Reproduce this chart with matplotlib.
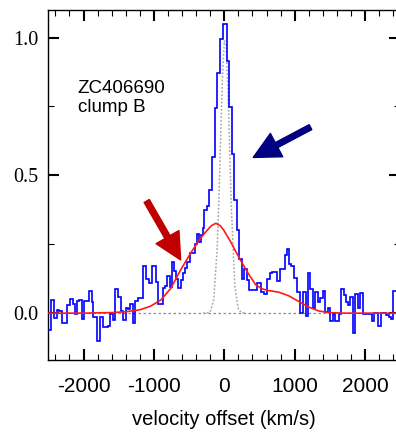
import numpy as np
import matplotlib
matplotlib.use("Agg")
import matplotlib.pyplot as plt
from matplotlib.patches import FancyArrowPatch
from matplotlib.ticker import MultipleLocator

plt.rcParams['axes.unicode_minus'] = False

# ---- observed spectrum (step histogram): bin edges in km/s and normalised flux
vel_edges = [-2500, -2463, -2416, -2378, -2345, -2311, -2236, -2194, -2155, -2127, -2099,
             -2070, -2028, -1991, -1920, -1886, -1858, -1811, -1768, -1721, -1645, -1622,
             -1588, -1551, -1503, -1461, -1432, -1390, -1361, -1339, -1300, -1262, -1225,
             -1154, -1106, -1069, -1021, -974, -942, -871, -842, -818, -771, -737, -709,
             -681, -652, -620, -587, -559, -525, -492, -459, -421, -393, -360, -336, -308,
             -286, -251, -218, -180, -138, -105, -60, -17, 37, 65, 104, 136, 174, 207, 245,
             278, 316, 349, 468, 515, 562, 600, 647, 681, 752, 798, 859, 893, 916, 947, 997,
             1039, 1082, 1124, 1160, 1188, 1224, 1259, 1295, 1330, 1366, 1404, 1436, 1469,
             1507, 1540, 1578, 1625, 1659, 1696, 1730, 1753, 1791, 1829, 1862, 1900, 1933,
             1971, 2011, 2099, 2121, 2188, 2231, 2302, 2337, 2365, 2391, 2500]
flux = [-0.06, 0.046, -0.018, 0.012, 0.006, -0.034, 0.028, 0.051, 0.034, -0.002, 0.045,
        0.047, -0.022, 0.043, 0.079, 0.040, -0.014, -0.100, -0.014, -0.052, -0.048, -0.002,
        -0.024, 0.087, 0.057, 0.008, -0.026, 0.019, 0.015, 0.034, -0.034, 0.043, 0.055,
        0.17, 0.123, 0.108, 0.17, 0.113, 0.033, 0.092, 0.1, 0.134, 0.095, 0.184, 0.153,
        0.123, 0.093, 0.12, 0.145, 0.165, 0.186, 0.218, 0.22, 0.252, 0.288, 0.258, 0.285,
        0.308, 0.374, 0.39, 0.447, 0.567, 0.745, 0.87, 0.996, 1.048, 0.915, 0.749, 0.577,
        0.41, 0.30, 0.196, 0.125, 0.162, 0.12, 0.084, 0.11, 0.078, 0.07, 0.123, 0.145,
        0.15, 0.115, 0.16, 0.211, 0.232, 0.18, 0.17, 0.127, 0.078, 0.0, 0.078, -0.012,
        0.147, 0.087, 0.02, 0.078, 0.04, 0.055, 0.08, 0.004, 0.02, -0.028, -0.003, -0.028,
        -0.003, 0.087, 0.065, 0.04, 0.028, 0.06, -0.072, 0.07, 0.02, 0.072, -0.003,
        -0.003, -0.03, 0.0, -0.048, 0.0, -0.008, -0.015, -0.02, 0.08]

# ---- broad model (red)
model_vel = [-2500, -2000, -1600, -1400, -1200, -1050, -900, -760, -620, -480, -340, -240,
             -180, -120, -60, -10, 90, 160, 255, 350, 445, 540, 630, 775, 915, 1060, 1200,
             1340, 1480, 1700, 2500]
model_flux = [0.0, 0.0, 0.002, 0.005, 0.012, 0.025, 0.048, 0.09, 0.157, 0.217, 0.272,
              0.302, 0.318, 0.326, 0.318, 0.302, 0.259, 0.225, 0.181, 0.14, 0.103, 0.088,
              0.082, 0.076, 0.063, 0.042, 0.022, 0.008, 0.002, 0.0, 0.0]

# ---- narrow component (grey dotted)
narrow_vel = [-300, -250, -200, -150, -100, -75, -50, -25, 0, 25, 50, 75, 100, 150, 200,
              250, 300]
narrow_flux = [0.0, 0.0003, 0.005, 0.048, 0.239, 0.425, 0.653, 0.865, 0.988, 0.974,
               0.827, 0.607, 0.383, 0.098, 0.014, 0.001, 0.0]

xticks = [-2000, -1000, 0, 1000, 2000]
xtick_labels = ['-2000', '-1000', '0', '1000', '2000']
yticks = [0.0, 0.5, 1.0]
ytick_labels = ['0.0', '0.5', '1.0']

fig = plt.figure(figsize=(3.96, 4.32), dpi=100)
ax = fig.add_axes([48.3 / 396, 72 / 432, 352 / 396, 350 / 432])

ax.axhline(0, color='#8c8c8c', lw=0.9, ls=(0, (2.0, 2.0)), zorder=1)
ax.plot(narrow_vel, narrow_flux, color='#a8a8a8', lw=1.1, ls=(0, (1.2, 1.2)), zorder=2)
ax.stairs(flux, vel_edges, baseline=None, color='#0000ff', lw=1.2, zorder=3)
ax.plot(model_vel, model_flux, color='#ff1a1a', lw=1.2, zorder=4)

ax.set_xlim(-2500, 2500)
ax.set_ylim(-0.17, 1.1)

ax.set_xticks(xticks)
ax.set_xticklabels(xtick_labels, fontsize=15, family='Liberation Sans')
ax.set_yticks(yticks)
ax.set_yticklabels(ytick_labels, fontsize=14.5, family='Liberation Serif')
ax.xaxis.set_minor_locator(MultipleLocator(200))
ax.yaxis.set_minor_locator(MultipleLocator(0.25))
ax.tick_params(which='both', direction='in', top=True, right=True, color='black')
ax.tick_params(which='major', length=7.7, width=1.5)
ax.tick_params(which='minor', length=4.3, width=0.8)
ax.tick_params(axis='x', which='major', pad=12)
ax.tick_params(axis='y', which='major', pad=7)
for s in ax.spines.values():
    s.set_linewidth(1.0)

ax.set_xlabel('velocity offset (km/s)', fontsize=14.5, family='Liberation Sans', labelpad=10)

ax.text(0.083, 0.80, 'ZC406690\nclump B', transform=ax.transAxes, fontsize=13.5,
        family='Liberation Sans', va='top', ha='left', linespacing=1.15)

red_arrow = FancyArrowPatch((-1102, 0.407), (-620, 0.193),
                            arrowstyle='simple,head_width=19,head_length=19,tail_width=4.3',
                            mutation_scale=1, color='#c00000', shrinkA=0, shrinkB=0, zorder=5)
blue_arrow = FancyArrowPatch((1224, 0.675), (411, 0.565),
                             arrowstyle='simple,head_width=19,head_length=19,tail_width=4',
                             mutation_scale=1, color='#000080', shrinkA=0, shrinkB=0, zorder=5)
ax.add_patch(red_arrow)
ax.add_patch(blue_arrow)

fig.savefig('out.png', dpi=100)
